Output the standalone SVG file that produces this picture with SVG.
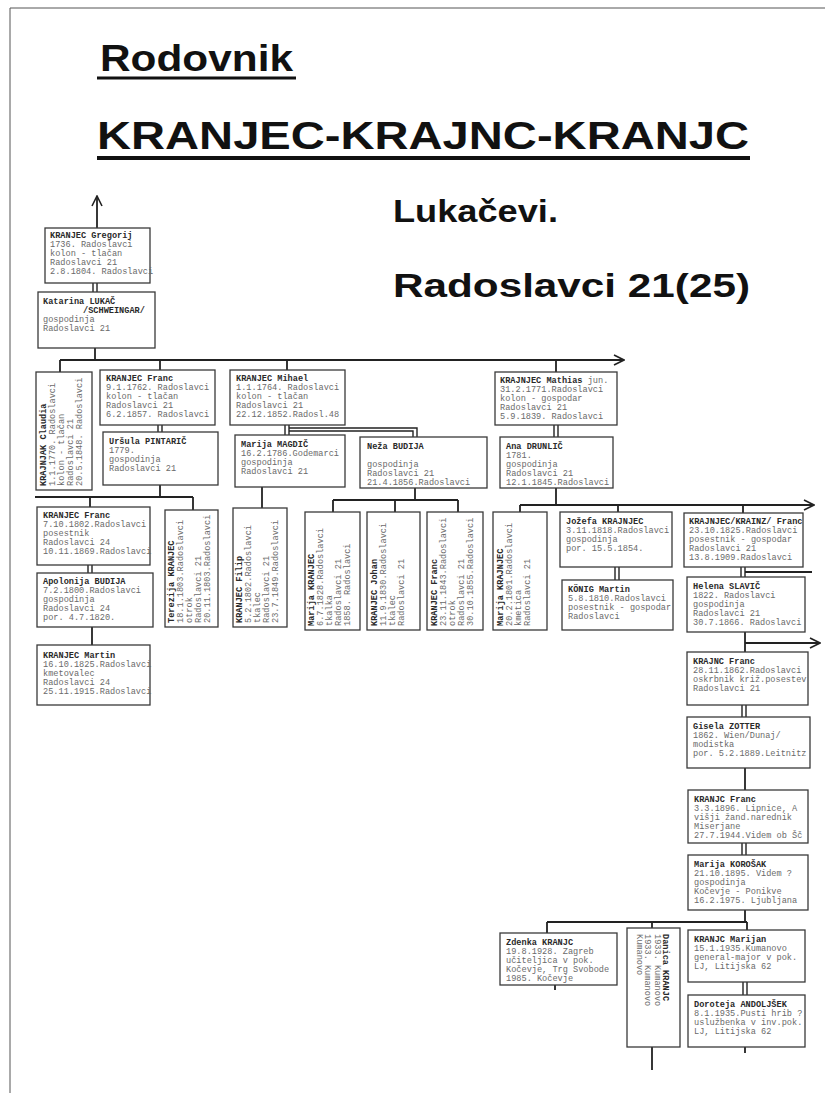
<svg xmlns="http://www.w3.org/2000/svg" width="825" height="1093" viewBox="0 0 825 1093">
<style>
.b{fill:#fff;stroke:#3a3a3a;stroke-width:1.3}
.t{font-family:"Liberation Mono",monospace;font-size:8.6px;fill:#6a6a6a}
.n{fill:#2a2a2a;font-weight:bold}
.c{stroke:#222;stroke-width:1.8;fill:none}
.d{stroke:#222;stroke-width:1.4;fill:none}
.h{font-family:"Liberation Sans",Arial,sans-serif;font-weight:bold;fill:#111}
</style>
<defs>
<marker id="ar" viewBox="0 0 12 12" refX="11" refY="6" markerWidth="12" markerHeight="12" markerUnits="userSpaceOnUse" orient="auto">
<path d="M1,1 L11,6 L1,11" fill="none" stroke="#222" stroke-width="1.6"/>
</marker>
</defs>
<rect width="825" height="1093" fill="#fff"/>
<g id="frame"><line x1="10" y1="8" x2="10" y2="1093" stroke="#555" stroke-width="1"/><line x1="10" y1="8" x2="825" y2="8" stroke="#555" stroke-width="1"/></g>
<g id="title">
<text class="h" x="100" y="71" font-size="37" textLength="193" lengthAdjust="spacingAndGlyphs">Rodovnik</text>
<line x1="97" y1="78" x2="296" y2="78" stroke="#111" stroke-width="3"/>
<text class="h" x="97" y="149" font-size="38" textLength="652" lengthAdjust="spacingAndGlyphs">KRANJEC-KRAJNC-KRANJC</text>
<line x1="97" y1="158" x2="750" y2="158" stroke="#111" stroke-width="4"/>
<text class="h" x="393" y="222" font-size="31" textLength="165" lengthAdjust="spacingAndGlyphs">Lukačevi.</text>
<text class="h" x="393" y="297" font-size="33" textLength="357" lengthAdjust="spacingAndGlyphs">Radoslavci 21(25)</text>
</g>
<g id="connectors">
<line class="c" x1="97" y1="228" x2="97" y2="196" marker-end="url(#ar)"/>
<path class="d" d="M93,283V292M97,283V292"/>
<path class="c" d="M95,348V360"/>
<line class="c" x1="60" y1="360" x2="624" y2="360" marker-end="url(#ar)"/>
<path class="c" d="M60,360V372M160,360V370M287,360V370M556,360V372"/>
<path class="d" d="M158,425V432M162,425V432"/>
<path class="d" d="M285,425V435M289,425V435"/>
<path class="d" d="M289,428H417V437M289,431H413V437"/>
<path class="d" d="M554,425V437M558,425V437"/>
<path class="c" d="M160,485V497M35,497H193M90,497V507M193,497V510"/>
<path class="c" d="M262,487V508"/>
<path class="c" d="M415,488V500M333,500H458M333,500V512M395,500V512M458,500V512"/>
<path class="c" d="M556,488V505M520,505V512M618,505V512M743,505V513"/>
<line class="c" x1="520" y1="505" x2="814" y2="505" marker-end="url(#ar)"/>
<path class="d" d="M88,565V573M92,565V573"/>
<path class="c" d="M92,627V645"/>
<path class="d" d="M615,567V580M619,567V580"/>
<path class="d" d="M741,567V577M745,567V577"/>
<path class="c" d="M745,572H812"/>
<path class="c" d="M745,632V652"/>
<line class="c" x1="745" y1="643" x2="820" y2="643" marker-end="url(#ar)"/>
<path class="d" d="M742,705V717M746,705V717"/>
<path class="c" d="M745,768V790"/>
<path class="d" d="M742,843V855M746,843V855"/>
<path class="c" d="M745,910V922M547,922H747M547,922V933M747,922V930M652,922V1070"/>
<path class="d" d="M743,982V995M747,982V995"/>
<path class="c" d="M745,1047V1053M555,985V990"/>
</g>
<g id="gregorij"><rect class="b" x="45" y="228" width="105" height="55"/>
<text class="t" x="50" y="238"><tspan class="n">KRANJEC Gregorij</tspan><tspan x="50" dy="9">1736. Radoslavci</tspan><tspan x="50" dy="9">kolon - tlačan</tspan><tspan x="50" dy="9">Radoslavci 21</tspan><tspan x="50" dy="9">2.8.1804. Radoslavci</tspan></text></g>
<g id="katarina"><rect class="b" x="38" y="292" width="117" height="56"/>
<text class="t" x="43" y="304"><tspan class="n">Katarina LUKAČ</tspan><tspan x="83" dy="9" class="n">/SCHWEINGAR/</tspan><tspan x="43" dy="9">gospodinja</tspan><tspan x="43" dy="9">Radoslavci 21</tspan></text></g>
<g id="claudia"><rect class="b" x="36" y="372" width="56" height="118"/>
<text class="t" transform="translate(46,486) rotate(-90)"><tspan class="n" x="0" y="0">KRAJNJAK Claudia</tspan><tspan x="0" dy="9">1.1.1770. Radoslavci</tspan><tspan x="0" dy="9">kolon - tlačan</tspan><tspan x="0" dy="9">Radoslavci 21</tspan><tspan x="0" dy="9">20.5.1848. Radoslavci</tspan></text></g>
<g id="franc1"><rect class="b" x="100" y="370" width="115" height="55"/>
<text class="t" x="106" y="381"><tspan class="n">KRANJEC Franc</tspan><tspan x="106" dy="9">9.1.1762. Radoslavci</tspan><tspan x="106" dy="9">kolon - tlačan</tspan><tspan x="106" dy="9">Radoslavci 21</tspan><tspan x="106" dy="9">6.2.1857. Radoslavci</tspan></text></g>
<g id="ursula"><rect class="b" x="103" y="432" width="115" height="53"/>
<text class="t" x="109" y="444"><tspan class="n">Uršula PINTARIČ</tspan><tspan x="109" dy="9">1779.</tspan><tspan x="109" dy="9">gospodinja</tspan><tspan x="109" dy="9">Radoslavci 21</tspan></text></g>
<g id="mihael"><rect class="b" x="230" y="370" width="115" height="55"/>
<text class="t" x="236" y="381"><tspan class="n">KRANJEC Mihael</tspan><tspan x="236" dy="9">1.1.1764. Radoslavci</tspan><tspan x="236" dy="9">kolon - tlačan</tspan><tspan x="236" dy="9">Radoslavci 21</tspan><tspan x="236" dy="9">22.12.1852.Radosl.48</tspan></text></g>
<g id="marija-magdic"><rect class="b" x="235" y="435" width="110" height="52"/>
<text class="t" x="241" y="447"><tspan class="n">Marija MAGDIČ</tspan><tspan x="241" dy="9">16.2.1786.Godemarci</tspan><tspan x="241" dy="9">gospodinja</tspan><tspan x="241" dy="9">Radoslavci 21</tspan></text></g>
<g id="neza"><rect class="b" x="360" y="437" width="127" height="51"/>
<text class="t" x="367" y="449"><tspan class="n">Neža BUDIJA</tspan><tspan x="367" dy="18">gospodinja</tspan><tspan x="367" dy="9">Radoslavci 21</tspan><tspan x="367" dy="9">21.4.1856.Radoslavci</tspan></text></g>
<g id="mathias"><rect class="b" x="495" y="372" width="122" height="53"/>
<text class="t" x="500" y="383"><tspan class="n">KRAJNJEC Mathias</tspan><tspan> jun.</tspan><tspan x="500" dy="9">31.2.1771.Radoslavci</tspan><tspan x="500" dy="9">kolon - gospodar</tspan><tspan x="500" dy="9">Radoslavci 21</tspan><tspan x="500" dy="9">5.9.1839. Radoslavci</tspan></text></g>
<g id="ana"><rect class="b" x="500" y="437" width="113" height="51"/>
<text class="t" x="506" y="449"><tspan class="n">Ana DRUNLIČ</tspan><tspan x="506" dy="9">1781.</tspan><tspan x="506" dy="9">gospodinja</tspan><tspan x="506" dy="9">Radoslavci 21</tspan><tspan x="506" dy="9">12.1.1845.Radoslavci</tspan></text></g>
<g id="franc2"><rect class="b" x="37" y="507" width="113" height="58"/>
<text class="t" x="43" y="518"><tspan class="n">KRANJEC Franc</tspan><tspan x="43" dy="9">7.10.1802.Radoslavci</tspan><tspan x="43" dy="9">posestnik</tspan><tspan x="43" dy="9">Radoslavci 24</tspan><tspan x="43" dy="9">10.11.1869.Radoslavci</tspan></text></g>
<g id="apolonija"><rect class="b" x="37" y="573" width="116" height="54"/>
<text class="t" x="43" y="584"><tspan class="n">Apolonija BUDIJA</tspan><tspan x="43" dy="9">7.2.1800.Radoslavci</tspan><tspan x="43" dy="9">gospodinja</tspan><tspan x="43" dy="9">Radoslavci 24</tspan><tspan x="43" dy="9">por. 4.7.1820.</tspan></text></g>
<g id="martin"><rect class="b" x="37" y="645" width="113" height="60"/>
<text class="t" x="43" y="658"><tspan class="n">KRANJEC Martin</tspan><tspan x="43" dy="9">16.10.1825.Radoslavci</tspan><tspan x="43" dy="9">kmetovalec</tspan><tspan x="43" dy="9">Radoslavci 24</tspan><tspan x="43" dy="9">25.11.1915.Radoslavci</tspan></text></g>
<g id="terezija"><rect class="b" x="165" y="510" width="53" height="117"/>
<text class="t" transform="translate(174,623) rotate(-90)"><tspan class="n" x="0" y="0">Terezija KRANJEC</tspan><tspan x="0" dy="9">18.1.1803.Radoslavci</tspan><tspan x="0" dy="9">otrok</tspan><tspan x="0" dy="9">Radoslavci 21</tspan><tspan x="0" dy="9">20.11.1803.Radoslavci</tspan></text></g>
<g id="filip"><rect class="b" x="233" y="508" width="54" height="119"/>
<text class="t" transform="translate(242,623) rotate(-90)"><tspan class="n" x="0" y="0">KRANJEC Filip</tspan><tspan x="0" dy="9">5.2.1802.Radoslavci</tspan><tspan x="0" dy="9">tkalec</tspan><tspan x="0" dy="9">Radoslavci 21</tspan><tspan x="0" dy="9">23.7.1849.Radoslavci</tspan></text></g>
<g id="marija-kranjec"><rect class="b" x="305" y="512" width="55" height="118"/>
<text class="t" transform="translate(314,626) rotate(-90)"><tspan class="n" x="0" y="0">Marija KRANJEC</tspan><tspan x="0" dy="9">6.7.1828.Radoslavci</tspan><tspan x="0" dy="9">tkalka</tspan><tspan x="0" dy="9">Radoslavci 21</tspan><tspan x="0" dy="9">1858. Radoslavci</tspan></text></g>
<g id="johan"><rect class="b" x="367" y="512" width="53" height="118"/>
<text class="t" transform="translate(377,626) rotate(-90)"><tspan class="n" x="0" y="0">KRANJEC Johan</tspan><tspan x="0" dy="9">11.9.1830.Radoslavci</tspan><tspan x="0" dy="9">tkalec</tspan><tspan x="0" dy="9">Radoslavci 21</tspan></text></g>
<g id="franc3"><rect class="b" x="427" y="512" width="56" height="118"/>
<text class="t" transform="translate(437,626) rotate(-90)"><tspan class="n" x="0" y="0">KRANJEC Franc</tspan><tspan x="0" dy="9">23.11.1843.Radoslavci</tspan><tspan x="0" dy="9">otrok</tspan><tspan x="0" dy="9">Radoslavci 21</tspan><tspan x="0" dy="9">30.10.1855.Radoslavci</tspan></text></g>
<g id="marija-krajnjec"><rect class="b" x="493" y="512" width="54" height="118"/>
<text class="t" transform="translate(503,626) rotate(-90)"><tspan class="n" x="0" y="0">Marija KRAJNJEC</tspan><tspan x="0" dy="9">20.2.1801.Radoslavci</tspan><tspan x="0" dy="9">kmetica</tspan><tspan x="0" dy="9">Radoslavci 21</tspan></text></g>
<g id="jozefa"><rect class="b" x="560" y="512" width="112" height="55"/>
<text class="t" x="566" y="524"><tspan class="n">Jožefa KRAJNJEC</tspan><tspan x="566" dy="9">3.11.1818.Radoslavci</tspan><tspan x="566" dy="9">gospodinja</tspan><tspan x="566" dy="9">por. 15.5.1854.</tspan></text></g>
<g id="konig"><rect class="b" x="562" y="580" width="111" height="50"/>
<text class="t" x="568" y="592"><tspan class="n">KÖNIG Martin</tspan><tspan x="568" dy="9">5.8.1810.Radoslavci</tspan><tspan x="568" dy="9">posestnik - gospodar</tspan><tspan x="568" dy="9">Radoslavci</tspan></text></g>
<g id="krainz"><rect class="b" x="684" y="513" width="119" height="54"/>
<text class="t" x="689" y="524"><tspan class="n">KRAJNJEC/KRAINZ/ Franc</tspan><tspan x="689" dy="9">23.10.1825.Radoslavci</tspan><tspan x="689" dy="9">posestnik - gospodar</tspan><tspan x="689" dy="9">Radoslavci 21</tspan><tspan x="689" dy="9">13.8.1909.Radoslavci</tspan></text></g>
<g id="helena"><rect class="b" x="687" y="577" width="118" height="55"/>
<text class="t" x="693" y="589"><tspan class="n">Helena SLAVIČ</tspan><tspan x="693" dy="9">1822. Radoslavci</tspan><tspan x="693" dy="9">gospodinja</tspan><tspan x="693" dy="9">Radoslavci 21</tspan><tspan x="693" dy="9">30.7.1866. Radoslavci</tspan></text></g>
<g id="krajnc-franc"><rect class="b" x="687" y="652" width="121" height="53"/>
<text class="t" x="693" y="664"><tspan class="n">KRAJNC Franc</tspan><tspan x="693" dy="9">28.11.1862.Radoslavci</tspan><tspan x="693" dy="9">oskrbnik križ.posestev</tspan><tspan x="693" dy="9">Radoslavci 21</tspan></text></g>
<g id="gisela"><rect class="b" x="687" y="717" width="123" height="51"/>
<text class="t" x="693" y="729"><tspan class="n">Gisela ZOTTER</tspan><tspan x="693" dy="9">1862. Wien/Dunaj/</tspan><tspan x="693" dy="9">modistka</tspan><tspan x="693" dy="9">por. 5.2.1889.Leitnitz</tspan></text></g>
<g id="kranjc-franc"><rect class="b" x="688" y="790" width="120" height="53"/>
<text class="t" x="694" y="802"><tspan class="n">KRANJC Franc</tspan><tspan x="694" dy="9">3.3.1896. Lipnice, A</tspan><tspan x="694" dy="9">višji žand.narednik</tspan><tspan x="694" dy="9">Miserjane</tspan><tspan x="694" dy="9">27.7.1944.Videm ob Šč</tspan></text></g>
<g id="marija-korosak"><rect class="b" x="688" y="855" width="120" height="55"/>
<text class="t" x="694" y="867"><tspan class="n">Marija KOROŠAK</tspan><tspan x="694" dy="9">21.10.1895. Videm ?</tspan><tspan x="694" dy="9">gospodinja</tspan><tspan x="694" dy="9">Kočevje - Ponikve</tspan><tspan x="694" dy="9">16.2.1975. Ljubljana</tspan></text></g>
<g id="zdenka"><rect class="b" x="500" y="933" width="117" height="52"/>
<text class="t" x="506" y="945"><tspan class="n">Zdenka KRANJC</tspan><tspan x="506" dy="9">19.8.1928. Zagreb</tspan><tspan x="506" dy="9">učiteljica v pok.</tspan><tspan x="506" dy="9">Kočevje, Trg Svobode</tspan><tspan x="506" dy="9">1985. Kočevje</tspan></text></g>
<g id="danica"><rect class="b" x="627" y="928" width="53" height="119"/>
<text class="t" transform="translate(663,934) rotate(90)"><tspan class="n" x="0" y="0">Danica KRANJC</tspan><tspan x="0" dy="8">1933. Kumanovo</tspan></text>
<text class="t" transform="translate(645,934) rotate(90)"><tspan x="0" y="0">1933. Kumanovo</tspan><tspan x="0" dy="8">Kumanovo</tspan></text></g>
<g id="marijan"><rect class="b" x="688" y="930" width="117" height="52"/>
<text class="t" x="694" y="942"><tspan class="n">KRANJC Marijan</tspan><tspan x="694" dy="9">15.1.1935.Kumanovo</tspan><tspan x="694" dy="9">general-major v pok.</tspan><tspan x="694" dy="9">LJ, Litijska 62</tspan></text></g>
<g id="doroteja"><rect class="b" x="688" y="995" width="117" height="52"/>
<text class="t" x="694" y="1007"><tspan class="n">Doroteja ANDOLJŠEK</tspan><tspan x="694" dy="9">8.1.1935.Pusti hrib ?</tspan><tspan x="694" dy="9">uslužbenka v inv.pok.</tspan><tspan x="694" dy="9">LJ, Litijska 62</tspan></text></g>
</svg>
